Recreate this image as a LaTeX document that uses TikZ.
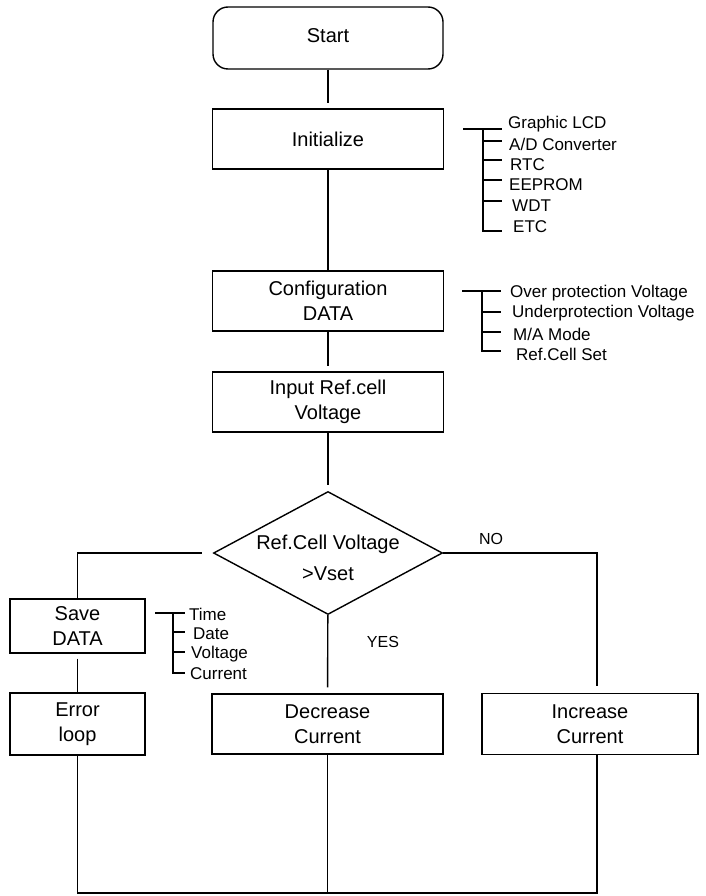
\documentclass[tikz,border=0pt]{standalone}
\usepackage{fontspec}
\setmainfont{Liberation Sans}
\usetikzlibrary{shapes.geometric}
\tikzset{
  flowbox/.style={draw, rectangle, line width=1.4pt, minimum width=231pt, minimum height=60pt,
    align=center, inner sep=0pt, font=\fontsize{20}{24.5}\selectfont},
  smallbox/.style={flowbox, minimum width=135pt},
  link/.style={line width=1.4pt},
  note/.style={anchor=west, inner sep=0pt, font=\fontsize{17}{20}\selectfont},
  tag/.style={inner sep=0pt, font=\fontsize{16}{19}\selectfont}
}
\begin{document}
\begin{tikzpicture}[x=1pt, y=-1pt]
    \useasboundingbox (0,0) rectangle (706,896);

    % main column
    \node [flowbox, minimum width=230pt, minimum height=62pt, rounded corners=15pt] (start) at (328,38) {\raisebox{4pt}{Start}};
    \node [flowbox] (init) at (328,139) {Initialize};
    \node [flowbox] (config) at (328,301) {Configuration\\DATA};
    \node [flowbox] (input) at (328,402) {Input Ref.cell\\Voltage};
    \node [draw, diamond, aspect=1.86, line width=1.4pt, minimum width=229pt, minimum height=123pt,
      inner sep=0pt, font=\fontsize{20}{31}\selectfont] (check) at (328,553)
      {\raisebox{-11pt}[0pt][0pt]{\begin{tabular}{@{}c@{}}Ref.Cell Voltage\\>Vset\end{tabular}}};

    % branches
    \node [smallbox, minimum height=54pt] (save) at (77.5,626) {Save\\DATA};
    \node [smallbox, minimum height=62pt] (err) at (77.5,724) {Error\\loop};
    \node [flowbox] (decr) at (327.5,724) {Decrease\\Current};
    \node [flowbox, minimum width=216pt, minimum height=61pt] (incr) at (590,724) {Increase\\Current};

    \node [tag] (no) at (491,539) {NO};
    \node [tag] (yes) at (383,642) {YES};

    \draw [link, shorten >=5pt] (start) -- (init);
    \draw [link] (init) -- (config);
    \draw [link, shorten >=5pt] (config) -- (input);
    \draw [link, shorten >=6pt] (input) -- (check);
    \draw [link, shorten <=11pt] (check.west) -- (save.north |- check.west) -- (save.north);
    \draw [link, shorten <=5pt] (save) -- (err);
    \draw [link, shorten >=6pt] (check) -- (decr);
    \coordinate (nocorner) at (597,553);
    \coordinate (loopend) at (597,893);
    \draw [link, shorten >=7pt] (check.east) -- (nocorner) -- (nocorner |- incr.north);
    \draw [link] (err.south) -- (err.south |- loopend) -- (loopend) -- (nocorner |- incr.south);
    \draw [link] (decr.south) -- (decr.south |- loopend);

    % Initialize items
    \draw [link] (463,129) -- (502,129) (483,129) -- (483,231) -- (502,231);
    \foreach \y in {141,160,180,201} \draw [link] (483,\y) -- (502,\y);
    \node [note] (lcd) at (508,124) {Graphic LCD};
    \node [note] (adc) at (509,144) {A/D Converter};
    \node [note] (rtc) at (510,165) {RTC};
    \node [note] (eep) at (509,185) {EEPROM};
    \node [note] (wdt) at (512,206) {WDT};
    \node [note] (etc) at (513,227) {ETC};

    % Configuration items
    \draw [link] (462,291) -- (501,291) (482,291) -- (482,351) -- (501,351);
    \foreach \y in {312,332} \draw [link] (482,\y) -- (501,\y);
    \node [note] (ovp) at (510,293) {Over protection Voltage};
    \node [note] (uvp) at (512,313) {Underprotection Voltage};
    \node [note] (mode) at (513,334) {M/A Mode};
    \node [note] (refset) at (516,354) {Ref.Cell Set};

    % Save items
    \draw [link] (155,613) -- (185,613) (173,613) -- (173,673) -- (185,673);
    \foreach \y in {632,652} \draw [link] (173,\y) -- (185,\y);
    \node [note] (time) at (189,614) {Time};
    \node [note] (date) at (193,634) {Date};
    \node [note] (volt) at (191,654) {Voltage};
    \node [note] (curr) at (190,674) {Current};
\end{tikzpicture}
\end{document}
